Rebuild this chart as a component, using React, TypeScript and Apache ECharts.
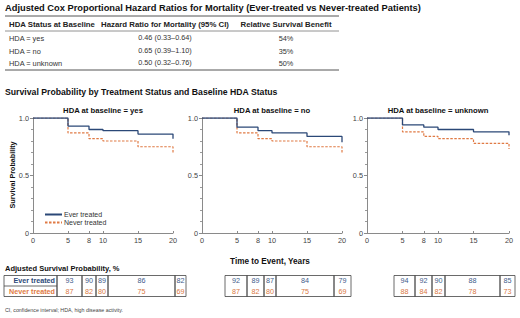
import React, { useEffect, useRef } from 'react';
import * as echarts from 'echarts';

// ---------- data ----------
const topTitle = 'Adjusted Cox Proportional Hazard Ratios for Mortality (Ever-treated vs Never-treated Patients)';
const hrHeaders = ['HDA Status at Baseline', 'Hazard Ratio for Mortality (95% CI)', 'Relative Survival Benefit'];
const hrGroups = ['HDA = yes', 'HDA = no', 'HDA = unknown'];
const hrValues = ['0.46 (0.33\u20130.64)', '0.65 (0.39\u20131.10)', '0.50 (0.32\u20130.76)'];
const survivalBenefit = ['54%', '35%', '50%'];

const sectionTitle = 'Survival Probability by Treatment Status and Baseline HDA Status';
const panelTitles = ['HDA at baseline = yes', 'HDA at baseline = no', 'HDA at baseline = unknown'];
const seriesNames = ['Ever treated', 'Never treated'];
const timePoints = [5, 8, 10, 15, 20];
const xTicks = [0, 5, 8, 10, 15, 20];
const yTickLabels = ['0', '0.5', '1.0'];

const everYes = [93, 90, 89, 86, 82];
const neverYes = [87, 82, 80, 75, 69];
const everNo = [92, 89, 87, 84, 79];
const neverNo = [87, 82, 80, 75, 69];
const everUnknown = [94, 92, 90, 88, 85];
const neverUnknown = [88, 84, 82, 78, 73];

const tableTitle = 'Adjusted Survival Probability, %';
const footnote = 'CI, confidence interval; HDA, high disease activity.';
const xAxisTitle = 'Time to Event, Years';
const yAxisTitle = 'Survival Probability';

// ---------- styles / layout ----------
const FONT = 'Arial, "Liberation Sans", sans-serif';
const EVER = '#2b4877';
const NEVER = '#e07a44';
const EVER_TXT = '#3e5b8a';
const NEVER_TXT = '#d9783f';
const grids = [
  { left: 33, top: 118, width: 140, height: 115 },
  { left: 202, top: 118, width: 140, height: 115 },
  { left: 367, top: 118, width: 142, height: 115 },
];
const tableCols = [
  [57, 82, 96, 108, 175, 186],
  [225, 247, 264, 276, 334, 351],
  [394, 415, 432, 445, 500, 515],
];
const tableTop = 275.5;
const rowH = 10.5;

function stepData(vals: number[]) {
  const pts: number[][] = [[0, 1]];
  let prev = 1;
  timePoints.forEach((t, i) => {
    const v = vals[i] / 100;
    pts.push([t, prev]);
    pts.push([t, v]);
    prev = v;
  });
  return pts;
}

function txt(text: string, x: number, y: number, size: number, opts: any = {}) {
  return {
    type: 'text',
    x,
    y,
    silent: true,
    rotation: opts.rotation || 0,
    style: {
      text,
      font: `${opts.bold ? 'bold ' : ''}${size}px ${FONT}`,
      fill: opts.fill || '#222',
      textAlign: opts.align || 'left',
      textVerticalAlign: 'middle',
    },
  };
}

function hline(x1: number, x2: number, y: number, color: string, w: number) {
  return { type: 'line', silent: true, shape: { x1, y1: y, x2, y2: y }, style: { stroke: color, lineWidth: w } };
}

export default function App() {
  const ref = useRef<HTMLDivElement>(null);
  useEffect(() => {
    if (!ref.current) return;
    const chart = echarts.init(ref.current, undefined, { renderer: 'svg' });
    const everAll = [everYes, everNo, everUnknown];
    const neverAll = [neverYes, neverNo, neverUnknown];

    const xAxes = grids.map((_, i) => ({
      type: 'value',
      gridIndex: i,
      min: 0,
      max: 20,
      splitLine: { show: false },
      axisLine: { lineStyle: { color: '#8a8a8a', width: 1 } },
      axisTick: { customValues: xTicks, inside: true, length: 2, lineStyle: { color: '#8a8a8a' } },
      axisLabel: { customValues: xTicks, fontSize: 7.3, color: '#444', fontFamily: FONT, margin: 4 },
    }));
    const yAxes = grids.map((_, i) => ({
      type: 'value',
      gridIndex: i,
      min: 0,
      max: 1,
      interval: 0.5,
      splitLine: { show: false },
      axisLine: { show: true, lineStyle: { color: '#8a8a8a', width: 1 } },
      axisTick: { show: true, length: 3, lineStyle: { color: '#8a8a8a' } },
      minorTick: { show: true, splitNumber: 5, length: 2, lineStyle: { color: '#9a9a9a' } },
      axisLabel: {
        fontSize: 7.3,
        color: '#444',
        fontFamily: FONT,
        margin: 4,
        formatter: (v: number) => yTickLabels[Math.round(v * 2)],
      },
    }));

    const series: any[] = [];
    grids.forEach((_, i) => {
      series.push({
        type: 'line',
        name: seriesNames[0],
        xAxisIndex: i,
        yAxisIndex: i,
        data: stepData(everAll[i]),
        symbol: 'none',
        lineStyle: { color: EVER, width: 1.3 },
        itemStyle: { color: EVER },
        z: 3,
      });
      series.push({
        type: 'line',
        name: seriesNames[1],
        xAxisIndex: i,
        yAxisIndex: i,
        data: stepData(neverAll[i]),
        symbol: 'none',
        lineStyle: { color: NEVER, width: 1.2, type: [2.5, 1.5] },
        itemStyle: { color: NEVER },
        z: 2,
      });
    });

    const graphics: any[] = [];
    // top table
    graphics.push(txt(topTitle, 5, 8, 9.3, { bold: true, fill: '#111' }));
    graphics.push(hline(5, 339, 16, '#555', 1));
    graphics.push(txt(hrHeaders[0], 9, 24, 7.8, { bold: true }));
    graphics.push(txt(hrHeaders[1], 165, 24, 7.8, { bold: true, align: 'center' }));
    graphics.push(txt(hrHeaders[2], 286, 24, 7.8, { bold: true, align: 'center' }));
    graphics.push(hline(5, 339, 31, '#777', 0.8));
    const rowYs = [38, 51, 63];
    hrGroups.forEach((g, i) => {
      graphics.push(txt(g, 9, rowYs[i], 7.4, { fill: '#333' }));
      graphics.push(txt(hrValues[i], 165, rowYs[i] - 1, 7.3, { fill: '#333', align: 'center' }));
      graphics.push(txt(survivalBenefit[i], 286, rowYs[i], 7.3, { fill: '#333', align: 'center' }));
    });
    graphics.push(hline(5, 339, 70, '#555', 1));

    // section title
    graphics.push(txt(sectionTitle, 5, 92, 8.7, { bold: true, fill: '#111' }));
    // panel titles
    grids.forEach((g, i) => {
      graphics.push(txt(panelTitles[i], g.left + g.width / 2, 110, 7.7, { bold: true, align: 'center', fill: '#111' }));
    });
    // axis titles
    graphics.push(txt(yAxisTitle, 12, 175, 7.2, { bold: true, align: 'center', rotation: Math.PI / 2, fill: '#111' }));
    graphics.push(txt(xAxisTitle, 270, 261, 8.2, { bold: true, align: 'center', fill: '#111' }));

    // bottom tables
    graphics.push(txt(tableTitle, 5, 268, 7.5, { bold: true, fill: '#111' }));
    graphics.push({
      type: 'rect', silent: true,
      shape: { x: 4, y: tableTop, width: 53, height: rowH * 2 },
      style: { fill: 'none', stroke: '#444', lineWidth: 0.8 },
    });
    graphics.push({ type: 'line', silent: true, shape: { x1: 4, y1: tableTop + rowH, x2: 57, y2: tableTop + rowH }, style: { stroke: '#444', lineWidth: 0.8 } });
    graphics.push(txt(seriesNames[0], 55, tableTop + rowH / 2, 7.2, { bold: true, align: 'right', fill: EVER }));
    graphics.push(txt(seriesNames[1], 55, tableTop + rowH * 1.5, 7.2, { bold: true, align: 'right', fill: NEVER }));
    tableCols.forEach((cols, p) => {
      for (let c = 0; c < cols.length - 1; c++) {
        graphics.push({
          type: 'rect', silent: true,
          shape: { x: cols[c], y: tableTop, width: cols[c + 1] - cols[c], height: rowH * 2 },
          style: { fill: 'none', stroke: '#444', lineWidth: 0.8 },
        });
        const cx = (cols[c] + cols[c + 1]) / 2;
        graphics.push(txt(String(everAll[p][c]), cx, tableTop + rowH / 2, 7.2, { align: 'center', fill: EVER_TXT }));
        graphics.push(txt(String(neverAll[p][c]), cx, tableTop + rowH * 1.5, 7.2, { align: 'center', fill: NEVER_TXT }));
      }
    });
    graphics.push(txt(footnote, 5, 310, 5.3, { fill: '#444' }));

    chart.setOption({
      animation: false,
      backgroundColor: '#fff',
      grid: grids,
      xAxis: xAxes,
      yAxis: yAxes,
      legend: {
        data: seriesNames,
        orient: 'vertical',
        left: 44,
        top: 211,
        itemWidth: 17,
        itemHeight: 7,
        itemGap: 1,
        padding: 0,
        itemStyle: { opacity: 0 },
        textStyle: { fontSize: 7, color: '#333', fontFamily: FONT, padding: [0, 0, 0, -3] },
      },
      series,
      graphic: graphics,
    });
    return () => chart.dispose();
  }, []);
  return <div ref={ref} style={{ position: 'fixed', left: 0, top: 0, width: 520, height: 318 }} />;
}
